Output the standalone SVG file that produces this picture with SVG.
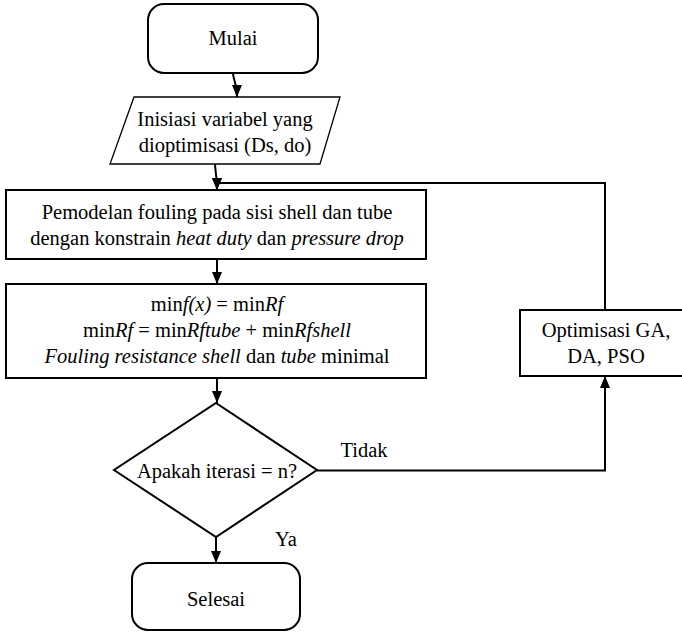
<svg xmlns="http://www.w3.org/2000/svg" width="682" height="632" viewBox="0 0 682 632" font-family="'Liberation Serif', 'DejaVu Serif', serif" font-size="20.5">
  <defs>
    <marker id="arrow" viewBox="0 0 12 10" refX="12" refY="5" markerWidth="12" markerHeight="10" markerUnits="userSpaceOnUse" orient="auto">
      <path d="M0,0 L12,5 L0,10 Z" fill="#000"/>
    </marker>
  </defs>
  <style>
    .shape { fill: #fff; stroke: #000; stroke-width: 2; }
    .thin { fill: #fff; stroke: #000; stroke-width: 1.3; }
    .conn { fill: none; stroke: #000; stroke-width: 2; marker-end: url(#arrow); }
    .lbl { font-family: 'Liberation Serif', 'DejaVu Serif', serif; font-size: 20.5px; fill: #000; text-anchor: middle; }
    .i { font-style: italic; }
  </style>
  <rect width="682" height="632" fill="#fff"/>

  <!-- connectors -->
  <g id="connectors">
    <path class="conn" d="M233,73 C233,80 237,82 237,97"/>
    <path class="conn" d="M215,164 C215,171 217,174 217,190"/>
    <path class="conn" d="M605,310 V183 H217 V190"/>
    <path class="conn" d="M217,259 V284"/>
    <path class="conn" d="M217,378 V403"/>
    <path class="conn" d="M317,470.5 H605 V376"/>
    <path class="conn" d="M216,537 V563"/>
  </g>

  <g id="start">
    <rect class="shape" x="148" y="4" width="170" height="69" rx="16"/>
    <text class="lbl" x="233" y="45">Mulai</text>
  </g>

  <g id="init">
    <polygon class="thin" points="134,97 340,97 320,164 110,164"/>
    <text class="lbl" x="225" y="126">Inisiasi variabel yang</text>
    <text class="lbl" x="225" y="152">dioptimisasi (Ds, do)</text>
  </g>

  <g id="model">
    <rect class="shape" x="6" y="190" width="420" height="69"/>
    <text class="lbl" x="217" y="219">Pemodelan fouling pada sisi shell dan tube</text>
    <text class="lbl" x="217" y="245">dengan konstrain <tspan class="i">heat duty</tspan> dan <tspan class="i">pressure drop</tspan></text>
  </g>

  <g id="objective">
    <rect class="shape" x="6" y="284" width="420" height="94"/>
    <text class="lbl" x="217" y="311">min<tspan class="i">f(x)</tspan> = min<tspan class="i">Rf</tspan></text>
    <text class="lbl" x="217" y="337">min<tspan class="i">Rf</tspan> = min<tspan class="i">Rftube</tspan> + min<tspan class="i">Rfshell</tspan></text>
    <text class="lbl" x="217" y="363"><tspan class="i">Fouling resistance shell</tspan> dan <tspan class="i">tube</tspan> minimal</text>
  </g>

  <g id="decision">
    <polygon class="shape" points="216,403 317,470 216,537 114,470"/>
    <text class="lbl" x="217" y="478">Apakah iterasi = n?</text>
  </g>

  <g id="optimizer">
    <rect class="shape" x="520" y="310" width="172" height="66"/>
    <text class="lbl" x="606" y="337">Optimisasi GA,</text>
    <text class="lbl" x="606" y="363">DA, PSO</text>
  </g>

  <g id="end">
    <rect class="shape" x="132" y="563" width="168" height="67" rx="16"/>
    <text class="lbl" x="216" y="606">Selesai</text>
  </g>

  <g id="labels">
    <text class="lbl" x="364" y="457">Tidak</text>
    <text class="lbl" x="286" y="546">Ya</text>
  </g>
</svg>
